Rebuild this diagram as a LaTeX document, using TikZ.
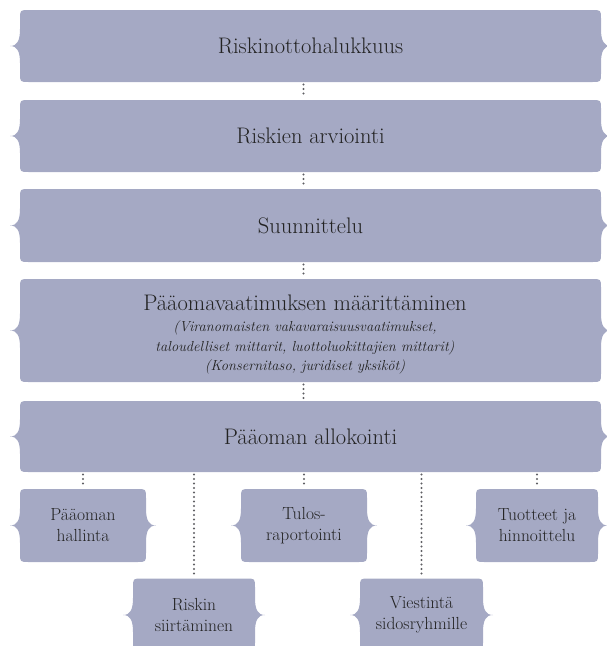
\documentclass[tikz,border=0pt]{standalone}
\usepackage{fontspec}
\usetikzlibrary{calc,backgrounds}
\definecolor{boxfill}{RGB}{165,169,196}
\definecolor{txt}{RGB}{35,35,35}
\definecolor{dotc}{RGB}{95,95,100}
\newcommand\smit{\fontsize{14.5}{19}\selectfont\itshape}
\newcommand\bracedbox[1]{%
 \fill[boxfill] let \p1=(#1.north west), \p2=(#1.south east), \p3=(#1.west) in
 (\x1+9pt,\y1) -- (\x2-9pt,\y1) .. controls (\x2,\y1) .. (\x2,\y1-9pt)
 -- (\x2,\y3+17pt) .. controls (\x2,\y3+5pt) and (\x2+3pt,\y3) .. (\x2+10pt,\y3)
 .. controls (\x2+3pt,\y3) and (\x2,\y3-5pt) .. (\x2,\y3-17pt)
 -- (\x2,\y2+9pt) .. controls (\x2,\y2) .. (\x2-9pt,\y2)
 -- (\x1+9pt,\y2) .. controls (\x1,\y2) .. (\x1,\y2+9pt)
 -- (\x1,\y3-17pt) .. controls (\x1,\y3-5pt) and (\x1-3pt,\y3) .. (\x1-10pt,\y3)
 .. controls (\x1-3pt,\y3) and (\x1,\y3+5pt) .. (\x1,\y3+17pt)
 -- (\x1,\y1-9pt) .. controls (\x1,\y1) .. (\x1+9pt,\y1) -- cycle;}
\tikzset{
 bigbox/.style={inner sep=0pt, outer sep=0pt, minimum width=581pt, text=txt, font=\fontsize{22.5}{20}\selectfont, align=center},
 smallbox/.style={inner sep=0pt, outer sep=0pt, minimum height=73pt, text=txt, font=\fontsize{17.5}{21}\selectfont, align=center},
 dotline/.style={draw=dotc, line width=2.1pt, line cap=round, dash pattern=on 0pt off 4.5pt, shorten >=2.5pt, shorten <=2.5pt}
}
\begin{document}
\begin{tikzpicture}[x=1pt,y=-1pt]
\clip (0,0) rectangle (607,646);
\node[bigbox, minimum height=72pt] (b1) at (310.5,46) {Riskinottohalukkuus};
\node[bigbox, minimum height=72pt] (b2) at (310.5,136) {Riskien arviointi};
\node[bigbox, minimum height=73pt] (b3) at (310.5,225.5) {Suunnittelu};
\node[bigbox, minimum height=103pt, text depth=0pt] (b4) at (310.5,330.5) {};
\node[bigbox, minimum width=0pt, anchor=base] (b4t) at (305,370) {Pääomavaatimuksen määrittäminen\\[1.7pt]
 \smit (Viranomaisten vakavaraisuusvaatimukset,\\ \smit taloudelliset mittarit, luottoluokittajien mittarit)\\[-1.7pt] \smit (Konsernitaso, juridiset yksiköt)};
\node[bigbox, minimum height=71pt] (b5) at (310.5,436.5) {Pääoman allokointi};
\node[smallbox, minimum width=126pt] (s1) at (83,525.5) {Pääoman\\hallinta};
\node[smallbox, minimum width=122pt] (s2) at (194,615) {Riskin\\siirtäminen};
\node[smallbox, minimum width=126pt] (s3) at (304,525.5) {Tulos-\\raportointi};
\node[smallbox, minimum width=123pt] (s4) at (421.5,615) {Viestintä\\sidosryhmille};
\node[smallbox, minimum width=122pt] (s5) at (537,525.5) {Tuotteet ja\\hinnoittelu};
\begin{pgfonlayer}{background}
\foreach \nm in {b1,b2,b3,b4,b5,s1,s2,s3,s4,s5} {\bracedbox{\nm}}
\end{pgfonlayer}
\draw[dotline] ([xshift=-7pt]b1.south) -- ([xshift=-7pt]b2.north);
\draw[dotline] ([xshift=-7pt]b2.south) -- ([xshift=-7pt]b3.north);
\draw[dotline] ([xshift=-7pt]b3.south) -- ([xshift=-7pt]b4.north);
\draw[dotline] ([xshift=-7pt]b4.south) -- ([xshift=-7pt]b5.north);
\foreach \nm in {s1,s2,s3,s4,s5} {\draw[dotline] (b5.south -| \nm.north) -- (\nm.north);}
\end{tikzpicture}
\end{document}
